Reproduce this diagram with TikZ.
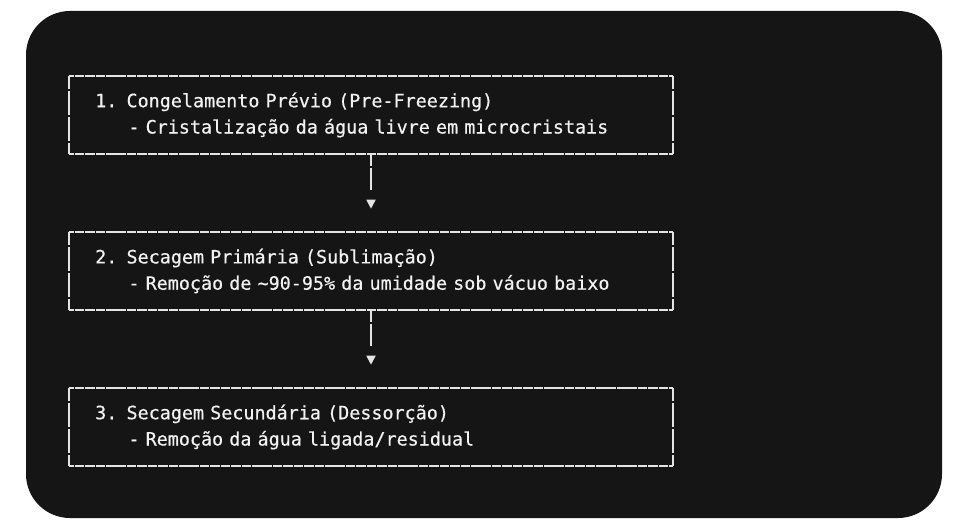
\documentclass[tikz,border=0pt]{standalone}
\usepackage{fontspec}
\newfontfamily\stepfont[FakeBold=0.5]{DejaVu Sans Mono}
\usepackage{tikz}
\usetikzlibrary{arrows.meta,positioning}

\definecolor{panel}{HTML}{151515}
\definecolor{rule}{HTML}{E4E4E4}
\definecolor{ink}{HTML}{F2F2F2}
\newcommand{\stepindent}{\hphantom{xxx}}

\tikzset{
  stage/.style={minimum width=453pt, minimum height=58.5pt, inner xsep=19.65pt, inner ysep=0pt,
    text width=413.7pt, align=left, text=ink, font=\stepfont\fontsize{13.8pt}{19.7pt}\selectfont},
  hrule/.style={draw=rule, line width=1.3pt, dash pattern=on 7.22pt off 0.6pt, dash phase=3.32pt},
  vrule/.style={draw=rule, line width=1.3pt, dash pattern=on 18pt off 1.5pt, dash phase=8.25pt},
  flow/.style={draw=rule, line width=1.3pt, dash pattern=on 9pt off 1.5pt on 16.5pt off 30pt,
    shorten >=17.25pt, -{Triangle[length=6.75pt,width=6.75pt]}}
}

\begin{document}
\begin{tikzpicture}[x=0.75pt,y=-0.75pt]
    % the page and the dark panel
    \fill[white] (0,0) rectangle (975,531);
    \useasboundingbox (0,0) rectangle (975,531);
    \fill[panel, rounded corners=33pt] (26,11) rectangle (942,518);

    % the three stages
    \node[stage] (b1) at (371,115) {1. Congelamento Prévio (Pre-Freezing)\\
      \stepindent- Cristalização da água livre em microcristais};
    \node[stage] (b2) at (371,271) {2. Secagem Primária (Sublimação)\\
      \stepindent- Remoção de \textasciitilde90-95\% da umidade sob vácuo baixo};
    \node[stage] (b3) at (371,427) {3. Secagem Secundária (Dessorção)\\
      \stepindent- Remoção da água ligada/residual};

    % the ascii-like borders
    \foreach \s in {b1,b2,b3} {
      \draw[hrule] (\s.north west) -- (\s.north east);
      \draw[hrule] (\s.south west) -- (\s.south east);
      \draw[vrule] (\s.north west) -- (\s.south west);
      \draw[vrule] (\s.north east) -- (\s.south east);
    }

    % draw the arrows
    \draw[flow] (b1.south) -- (b2.north);
    \draw[flow] (b2.south) -- (b3.north);

\end{tikzpicture}
\end{document}
